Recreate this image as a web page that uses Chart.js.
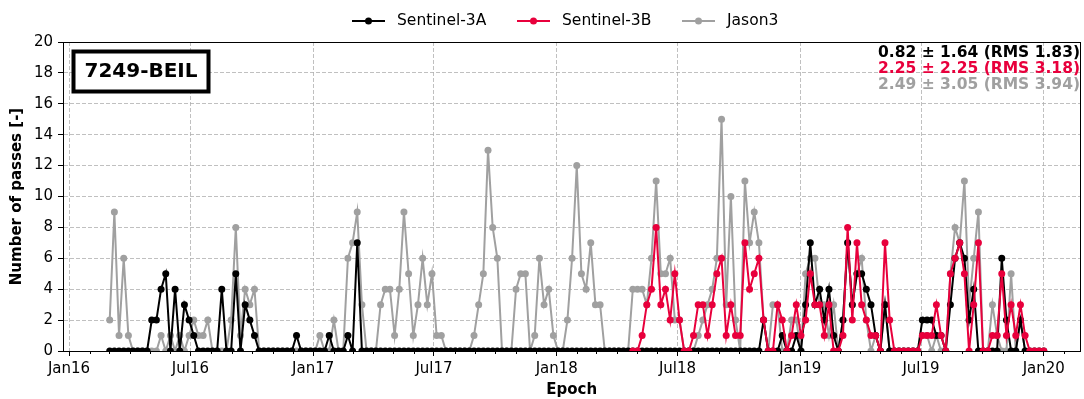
<!DOCTYPE html>
<html>
<head>
  <meta charset="utf-8">
  <style>
    html, body { margin: 0; padding: 0; background: #fff; }
    canvas { display: block; }
  </style>
</head>
<body>
  <canvas id="myChart" width="1084" height="399"></canvas>
  <script src="https://cdn.jsdelivr.net/npm/chart.js@4.4.0/dist/chart.umd.min.js"></script>
  <script>
    // weekly pass counts, first epoch 2016-03-02, one value per week
    const DAY = 86400000;
    const T0 = Date.UTC(2016, 0, 1);
    const firstEpoch = Date.UTC(2016, 2, 2);
    const s3bFirstWeek = 112;

    const s3a = [
      0, 0, 0, 0, 0, 0, 0, 0, 0, 2,
      2, 4, 5, 0, 4, 0, 3, 2, 1, 0,
      0, 0, 0, 0, 4, 0, 0, 5, 0, 3,
      2, 1, 0, 0, 0, 0, 0, 0, 0, 0,
      1, 0, 0, 0, 0, 0, 0, 1, 0, 0,
      0, 1, 0, 7, 0, 0, 0, 0, 0, 0,
      0, 0, 0, 0, 0, 0, 0, 0, 0, 0,
      0, 0, 0, 0, 0, 0, 0, 0, 0, 0,
      0, 0, 0, 0, 0, 0, 0, 0, 0, 0,
      0, 0, 0, 0, 0, 0, 0, 0, 0, 0,
      0, 0, 0, 0, 0, 0, 0, 0, 0, 0,
      0, 0, 0, 0, 0, 0, 0, 0, 0, 0,
      0, 0, 0, 0, 0, 0, 0, 0, 0, 0,
      0, 0, 0, 0, 0, 0, 0, 0, 0, 0,
      2, 0, 0, 0, 1, 0, 0, 1, 0, 3,
      7, 3, 4, 2, 4, 1, 0, 2, 7, 3,
      5, 5, 4, 3, 1, 0, 3, 0, 0, 0,
      0, 0, 0, 0, 2, 2, 2, 1, 1, 0,
      3, 6, 7, 6, 2, 4, 0, 0, 0, 0,
      0, 6, 2, 0, 0, 2, 0, 0, 0, 0,
      0
    ];

    const s3b = [
      0, 0, 1, 3, 4, 8, 3, 4,
      2, 5, 2, 0, 0, 1, 3, 3, 1, 3,
      5, 6, 1, 3, 1, 1, 7, 4, 5, 6,
      2, 0, 0, 3, 2, 0, 1, 3, 1, 2,
      5, 3, 3, 1, 3, 0, 0, 1, 8, 2,
      7, 3, 2, 1, 1, 0, 7, 2, 0, 0,
      0, 0, 0, 0, 1, 1, 1, 3, 1, 0,
      5, 6, 7, 5, 0, 3, 7, 0, 0, 1,
      1, 5, 1, 3, 1, 3, 1, 0, 0, 0,
      0
    ];

    const jason3 = [
      2, 9, 1, 6, 1, 0, 0, 0, 0, 0,
      0, 1, 0, 1, 0, 1, 0, 1, 2, 1,
      1, 2, 0, 0, 0, 0, 2, 8, 1, 4,
      3, 4, 0, 0, 0, 0, 0, 0, 0, 0,
      0, 0, 0, 0, 0, 1, 0, 0, 2, 0,
      0, 6, 7, 9, 3, 0, 0, 0, 3, 4,
      4, 1, 4, 9, 5, 1, 3, 6, 3, 5,
      1, 1, 0, 0, 0, 0, 0, 0, 1, 3,
      5, 13, 8, 6, 0, 0, 0, 4, 5, 5,
      0, 1, 6, 3, 4, 1, 0, 0, 2, 6,
      12, 5, 4, 7, 3, 3, 0, 0, 0, 0,
      0, 0, 4, 4, 4, 3, 6, 11, 5, 5,
      6, 2, 2, 0, 0, 0, 1, 2, 3, 4,
      6, 15, 3, 10, 2, 0, 11, 7, 9, 7,
      2, 0, 3, 3, 0, 0, 2, 2, 0, 5,
      6, 6, 3, 3, 1, 3, 0, 2, 7, 3,
      5, 6, 2, 0, 1, 0, 3, 0, 0, 0,
      0, 0, 0, 0, 1, 1, 0, 1, 0, 0,
      5, 8, 7, 11, 3, 6, 9, 0, 0, 3,
      1, 0, 0, 5, 0, 2, 0
    ];

    const seriesNames = ['Sentinel-3A', 'Sentinel-3B', 'Jason3'];
    const seriesColors = ['#000000', '#e8003c', '#a0a0a0'];
    const statLines = [
      '0.82 \u00b1 1.64 (RMS 1.83)',
      '2.25 \u00b1 2.25 (RMS 3.18)',
      '2.49 \u00b1 3.05 (RMS 3.94)'
    ];
    const stationName = '7249-BEIL';
    const tickLabels = ['Jan16', 'Jul16', 'Jan17', 'Jul17', 'Jan18', 'Jul18', 'Jan19', 'Jul19', 'Jan20'];

    const dayOf = t => (t - T0) / DAY;
    const epochDay = k => dayOf(firstEpoch) + 7 * k;
    const toPoints = (vals, k0) => vals.map((v, i) => ({ x: epochDay(k0 + i), y: v }));

    const majorTicks = tickLabels.map((l, i) => dayOf(Date.UTC(2016 + Math.floor(i / 2), (i % 2) * 6, 1)));
    const labelAt = {};
    majorTicks.forEach((d, i) => { labelAt[d] = tickLabels[i]; });
    const minorTicks = [];
    for (let m = 0; m < 50; m++) minorTicks.push(dayOf(Date.UTC(2016, m, 1)));

    const FONT = 'DejaVu Sans';
    Chart.defaults.font.family = FONT;
    Chart.defaults.color = '#000';

    const decor = {
      id: 'decor',
      afterDraw(chart) {
        const { ctx, chartArea: a } = chart;
        const xs = chart.scales.x;
        ctx.save();
        // minor month ticks
        ctx.strokeStyle = '#000';
        ctx.lineWidth = 1;
        minorTicks.forEach(d => {
          if (labelAt[d] !== undefined) return;
          const px = Math.round(xs.getPixelForValue(d)) + 0.5;
          if (px < a.left || px > a.right) return;
          ctx.beginPath();
          ctx.moveTo(px, a.bottom);
          ctx.lineTo(px, a.bottom + 3);
          ctx.stroke();
        });
        // spines
        ctx.strokeRect(Math.round(a.left) + 0.5, Math.round(a.top) + 0.5,
          Math.round(a.right - a.left) - 1, Math.round(a.bottom - a.top));

        // station box
        ctx.fillStyle = '#fff';
        ctx.fillRect(73, 51, 136, 41);
        ctx.lineWidth = 4;
        ctx.strokeStyle = '#000';
        ctx.strokeRect(73.5, 51.5, 135, 40);
        ctx.fillStyle = '#000';
        ctx.font = 'bold 20px "' + FONT + '"';
        ctx.textAlign = 'center';
        ctx.textBaseline = 'middle';
        ctx.fillText(stationName, 141, 72);

        // stats
        ctx.font = 'bold 15.5px "' + FONT + '"';
        ctx.textAlign = 'right';
        statLines.forEach((s, i) => {
          ctx.fillStyle = seriesColors[i];
          ctx.fillText(s, 1080, 53 + i * 16);
        });

        // legend
        const legendX = [352, 517, 682];
        ctx.font = '15.5px "' + FONT + '"';
        ctx.textAlign = 'left';
        seriesNames.forEach((name, i) => {
          const x0 = legendX[i];
          ctx.strokeStyle = seriesColors[i];
          ctx.fillStyle = seriesColors[i];
          ctx.lineWidth = 2;
          ctx.beginPath();
          ctx.moveTo(x0, 21);
          ctx.lineTo(x0 + 33, 21);
          ctx.stroke();
          ctx.beginPath();
          ctx.arc(x0 + 16.5, 21, 3.5, 0, Math.PI * 2);
          ctx.fill();
          ctx.fillStyle = '#000';
          ctx.fillText(name, x0 + 45, 21);
        });
        ctx.restore();
      }
    };

    const mkSet = (i, pts, order) => ({
      label: seriesNames[i],
      data: pts,
      borderColor: seriesColors[i],
      backgroundColor: seriesColors[i],
      pointBackgroundColor: seriesColors[i],
      borderWidth: 2,
      pointRadius: 3.5,
      pointBorderWidth: 0,
      pointHoverRadius: 3.5,
      tension: 0,
      order: order
    });

    new Chart(document.getElementById('myChart'), {
      type: 'line',
      data: {
        datasets: [
          mkSet(0, toPoints(s3a, 0), 1),
          mkSet(1, toPoints(s3b, s3bFirstWeek), 0),
          mkSet(2, toPoints(jason3, 0), 2)
        ]
      },
      options: {
        responsive: false,
        animation: false,
        events: [],
        layout: { padding: { top: 42, right: 1, left: 0, bottom: 0 } },
        plugins: {
          legend: { display: false },
          tooltip: { enabled: false }
        },
        scales: {
          x: {
            type: 'linear',
            min: -9,
            max: 1516,
            afterBuildTicks: s => { s.ticks = majorTicks.map(v => ({ value: v })); },
            afterFit: s => { s.height = 48; },
            ticks: {
              autoSkip: false,
              maxRotation: 0,
              padding: 4,
              font: { size: 15 },
              color: '#000',
              callback: v => labelAt[v] || ''
            },
            grid: { color: '#b0b0b0', lineWidth: 0.8, tickColor: '#000', tickLength: 5, tickWidth: 1 },
            border: { display: true, color: '#000', width: 1, dash: [4, 2] },
            title: { display: true, text: 'Epoch', font: { size: 15, weight: 'bold' }, color: '#000', padding: { top: 0, bottom: 0 } }
          },
          y: {
            min: 0,
            max: 20,
            afterFit: s => { s.width = 63; },
            ticks: { stepSize: 2, padding: 5, font: { size: 15 }, color: '#000' },
            grid: { color: '#b0b0b0', lineWidth: 0.8, tickColor: '#000', tickLength: 5, tickWidth: 1 },
            border: { display: true, color: '#000', width: 1, dash: [4, 2] },
            title: { display: true, text: 'Number of passes [-]', font: { size: 15, weight: 'bold' }, color: '#000', padding: { top: 8, bottom: 0 } }
          }
        }
      },
      plugins: [decor]
    });
  </script>
</body>
</html>
